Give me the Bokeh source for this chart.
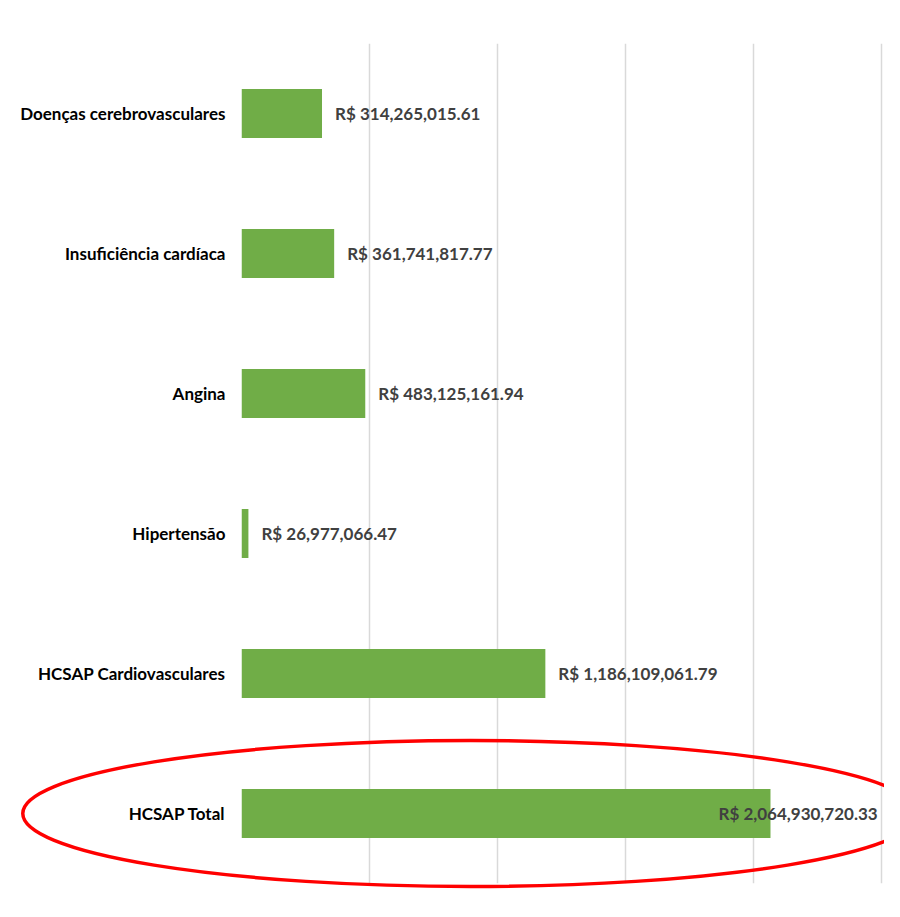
from bokeh.plotting import figure
from bokeh.models import ColumnDataSource, FactorRange, Range1d, FixedTicker, LabelSet
from bokeh.core.properties import value
from bokeh.embed import file_html
from bokeh.resources import INLINE

categories = ["Doenças cerebrovasculares", "Insuficiência cardíaca", "Angina",
              "Hipertensão", "HCSAP Cardiovasculares", "HCSAP Total"]
values = [314265015.61, 361741817.77, 483125161.94,
          26977066.47, 1186109061.79, 2064930720.33]
grid_ticks = [0, 500e6, 1000e6, 1500e6, 2000e6, 2500e6]

labels = ["R$ " + "{:,.2f}".format(v) for v in values]
offsets = [13, 13, 13, 13, 13, -52]

src = ColumnDataSource(dict(cat=categories, val=values, lab=labels, off=offsets))

FONT = "Lato"
W, H = 884, 901

p = figure(width=W, height=H, output_backend="svg", toolbar_location=None,
           y_range=FactorRange(factors=list(reversed(categories)), range_padding=0),
           x_range=Range1d(0, 2.51e9),
           min_border_left=241, min_border_top=43, min_border_bottom=18, min_border_right=0)
p.outline_line_color = None
p.background_fill_color = "white"
p.border_fill_color = "white"

p.hbar(y="cat", right="val", left=0, height=0.35, source=src,
       fill_color="#70AD47", line_color=None)

p.xaxis.visible = False
p.xgrid.ticker = FixedTicker(ticks=grid_ticks)
p.xgrid.grid_line_color = "#D9D9D9"
p.xgrid.grid_line_width = 1.5
p.ygrid.grid_line_color = None

ax = p.yaxis[0]
ax.axis_line_color = None
ax.major_tick_line_color = None
ax.minor_tick_line_color = None
ax.major_tick_out = 0
ax.major_tick_in = 0
ax.major_label_standoff = 16
ax.major_label_text_font = FONT
ax.major_label_text_font_style = "bold"
ax.major_label_text_font_size = "17px"
ax.major_label_text_color = "#000000"

ls = LabelSet(x="val", y="cat", text="lab", x_offset="off", source=src,
              text_font=value(FONT), text_font_style="bold", text_font_size="17px",
              text_color="#404040", text_baseline="middle", text_align="left")
p.add_layout(ls)

# highlight ellipse around the total row
ell = p.ellipse(x=[8.95e8], y=[categories[-1]], width=[896], height=[146],
                width_units="screen", height_units="screen",
                fill_color=None, line_color="#FF0000", line_width=3.5)
ell.level = "overlay"

open("out.html", "w").write(file_html(p, INLINE))
